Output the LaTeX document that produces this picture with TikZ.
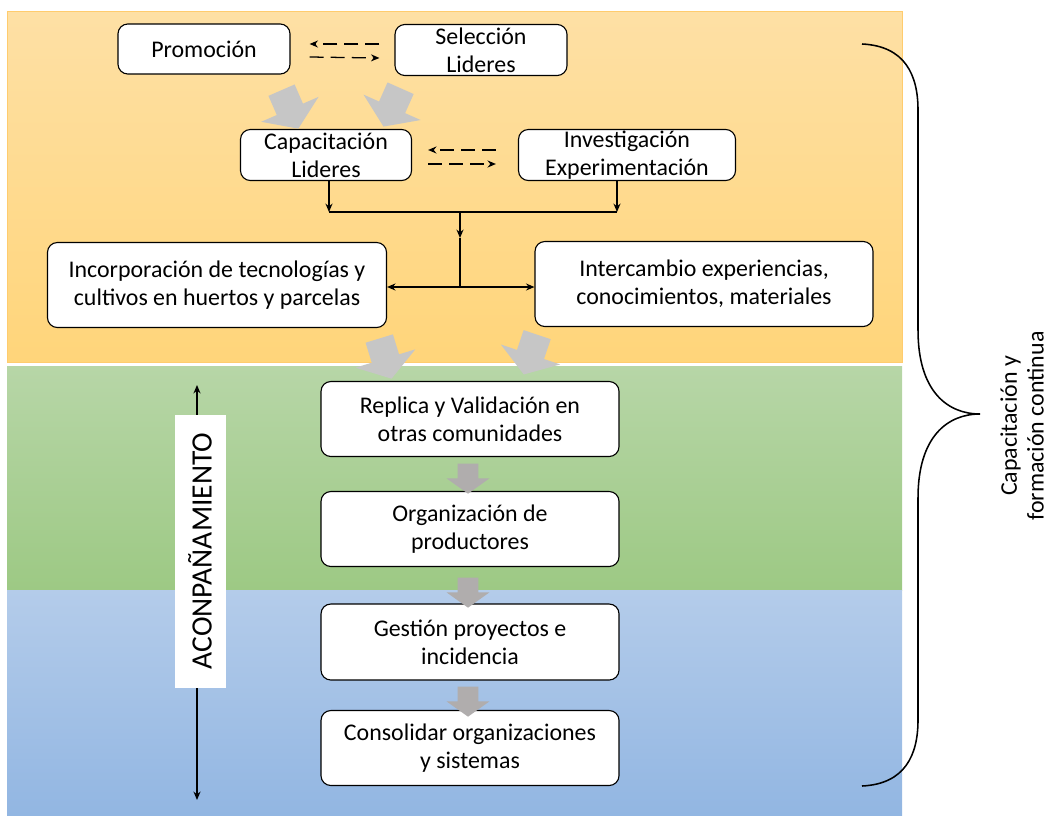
\documentclass[tikz,border=0pt]{standalone}
\usepackage{fontspec}
\setmainfont{Carlito}
\usetikzlibrary{shapes.arrows,arrows.meta}
\newcommand{\pxl}{0.025cm}
\definecolor{naranja1}{RGB}{254,224,165}
\definecolor{naranja2}{RGB}{255,213,122}
\definecolor{verde1}{RGB}{183,214,167}
\definecolor{verde2}{RGB}{157,201,132}
\definecolor{azul1}{RGB}{180,204,234}
\definecolor{azul2}{RGB}{146,182,226}
\definecolor{flecha}{RGB}{176,173,173}
\definecolor{flechaclara}{RGB}{198,198,198}
\tikzset{
  caja/.style={draw, fill=white, rounded corners=7pt, line width=0.8pt,
    align=center, inner sep=0pt, font=\fontsize{17}{20}\selectfont},
  punta/.style={-{Stealth[length=6pt,width=5pt]}},
  punteada/.style={line width=0.9pt, dash pattern=on 10pt off 5pt, punta},
  linea/.style={line width=0.9pt},
  bloque/.style={single arrow, fill=flecha, draw=none, inner xsep=0pt, inner ysep=10*\pxl,
    minimum height=30*\pxl, single arrow head extend=11*\pxl, single arrow tip angle=109},
  bloquediag/.style={single arrow, fill=flechaclara, draw=none, inner xsep=0pt, inner ysep=14*\pxl,
    minimum height=42*\pxl, single arrow head extend=17*\pxl, single arrow tip angle=112},
}
\begin{document}
\begin{tikzpicture}[x=0.025cm, y=-0.025cm]
  \useasboundingbox (0,0) rectangle (1051,815);

  \shade[top color=naranja1, bottom color=naranja2, draw=naranja2!90!orange] (7,11) rectangle (902,362);
  \shade[top color=verde1, bottom color=verde2] (7,366) rectangle (902,590);
  \shade[top color=azul1, bottom color=azul2] (7,590) rectangle (902,815);

  \node[caja, minimum width=172*\pxl, minimum height=50*\pxl] (promo) at (204,49) {Promoción};
  \node[caja, minimum width=172*\pxl, minimum height=51*\pxl] (selec) at (481,50) {Selección\\Lideres};
  \node[caja, minimum width=171*\pxl, minimum height=51*\pxl] (capac) at (326,155) {Capacitación\\Lideres};
  \node[caja, minimum width=217*\pxl, minimum height=51*\pxl] (inves) at (627,155) {Investigación\\Experimentación};
  \node[caja, minimum width=339*\pxl, minimum height=85*\pxl] (incor) at (217,285) {Incorporación de tecnologías y\\cultivos en huertos y parcelas};
  \node[caja, minimum width=338*\pxl, minimum height=85*\pxl] (inter) at (704,284) {Intercambio experiencias,\\conocimientos, materiales};
  \node[caja, minimum width=298*\pxl, minimum height=75*\pxl] (repli) at (470,419) {Replica y Validación en\\otras comunidades};
  \node[caja, minimum width=298*\pxl, minimum height=75*\pxl] (organ) at (470,529) {Organización de\\productores};
  \node[caja, minimum width=298*\pxl, minimum height=76*\pxl] (gesti) at (470,642) {Gestión proyectos e\\incidencia};
  \node[caja, minimum width=298*\pxl, minimum height=75*\pxl] (conso) at (470,748) {Consolidar organizaciones\\y sistemas};

  \draw[punteada] ([xshift=-15*\pxl, yshift=6*\pxl]selec.west) -- ([xshift=19*\pxl, yshift=5*\pxl]promo.east);
  \draw[punteada] ([xshift=19*\pxl, yshift=-8*\pxl]promo.east) -- ([xshift=-15*\pxl, yshift=-8*\pxl]selec.west);
  \draw[punteada] ([xshift=-22*\pxl, yshift=5*\pxl]inves.west) -- ([xshift=16*\pxl, yshift=5*\pxl]capac.east);
  \draw[punteada] ([xshift=16*\pxl, yshift=-9*\pxl]capac.east) -- ([xshift=-22*\pxl, yshift=-9*\pxl]inves.west);

  \coordinate (ji) at (329,212);
  \coordinate (jd) at (617,212);
  \coordinate (jm) at (460,212);
  \coordinate (jc) at (460,238);
  \coordinate (jb) at (460,287);
  \draw[linea, punta] (capac.south -| ji) -- (ji);
  \draw[linea, punta] (inves.south -| jd) -- (jd);
  \draw[linea] (ji) -- (jd);
  \draw[linea, punta] (jm) -- (jc);
  \draw[linea] (jc) -- (jb);
  \draw[linea, {Stealth[length=6pt,width=5pt]}-{Stealth[length=6pt,width=5pt]}] (incor.east |- jb) -- (inter.west |- jb);

  \node[bloquediag, rotate=-66.5] (d1) at (288,105) {};
  \node[bloquediag, rotate=-114] (d2) at (394,103) {};
  \node[bloquediag, rotate=-73] (d3) at (384,354) {};
  \node[bloquediag, rotate=-108.6] (d4) at (532,350) {};
  \node[bloque, rotate=-90] (b1) at (468,475) {};
  \node[bloque, rotate=-90] (b2) at (468,589) {};
  \node[bloque, rotate=-90] (b3) at (468,698) {};

  \coordinate (aa) at (197,385);
  \coordinate (ab) at (197,800);
  \draw[linea, {Stealth[length=6pt,width=5pt]}-{Stealth[length=6pt,width=5pt]}] (ab) -- (aa);
  \node[fill=white, rotate=90, minimum width=273*\pxl, minimum height=51*\pxl, inner sep=0pt,
    font=\fontsize{21}{24}\selectfont] (acomp) at (200,551) {ACONPAÑAMIENTO};

  \draw[line width=1.1pt] (862,44) .. controls (905,46) and (918,75) .. (918,110)
    -- (918,330) .. controls (918,392) and (948,414) .. (980,414)
    .. controls (948,414) and (918,436) .. (918,498)
    -- (918,720) .. controls (918,755) and (905,784) .. (862,786);
  \node[rotate=90, align=center, inner sep=0pt, font=\fontsize{17}{19}\selectfont] (forma) at (1022,426) {Capacitación y\\formación continua};
\end{tikzpicture}
\end{document}
